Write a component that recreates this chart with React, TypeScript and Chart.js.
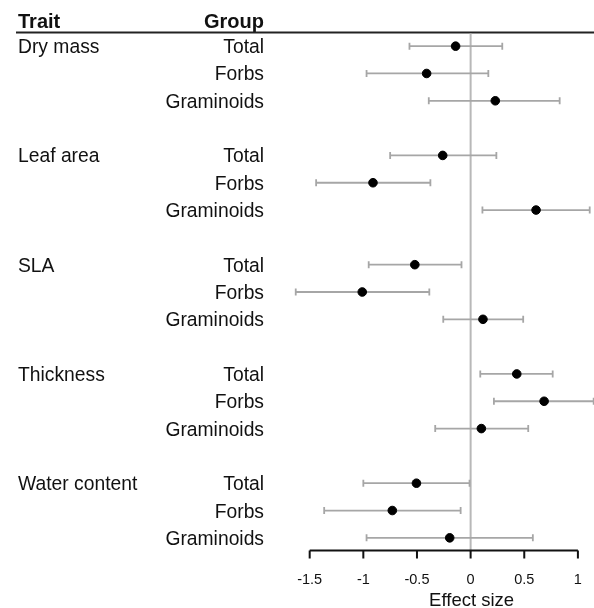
import React, { useEffect, useRef } from "react";
import { Chart, registerables } from "chart.js";

Chart.register(...registerables);

const traits = ["Dry mass", "Leaf area", "SLA", "Thickness", "Water content"];
const groups = ["Total", "Forbs", "Graminoids"];
// effect sizes, per trait x group (Total, Forbs, Graminoids)
const estimates = [
  -0.14, -0.41, 0.23,
  -0.26, -0.91, 0.61,
  -0.52, -1.01, 0.115,
  0.43, 0.685, 0.1,
  -0.505, -0.73, -0.195,
];
const lower = [
  -0.57, -0.97, -0.39,
  -0.75, -1.44, 0.11,
  -0.95, -1.63, -0.255,
  0.09, 0.217, -0.33,
  -1.0, -1.365, -0.97,
];
const upper = [
  0.295, 0.165, 0.83,
  0.24, -0.375, 1.11,
  -0.085, -0.385, 0.49,
  0.765, 1.147, 0.537,
  -0.01, -0.093, 0.58,
];
const xTicks = [-1.5, -1, -0.5, 0, 0.5, 1];
const xTickLabels = ["-1.5", "-1", "-0.5", "0", "0.5", "1"];
const xTitle = "Effect size";
const headerTrait = "Trait";
const headerGroup = "Group";

// row index per estimate: 3 rows per trait, 1 blank row between traits
const rowOf = (i: number) => Math.floor(i / 3) * 4 + (i % 3);

const FONT = "'Liberation Sans', Arial, Helvetica, sans-serif";

export default function App() {
  const ref = useRef<HTMLCanvasElement | null>(null);

  useEffect(() => {
    document.body.style.margin = "0";
    const canvas = ref.current;
    if (!canvas) return;

    const points = estimates.map((v, i) => ({ x: v, y: rowOf(i) }));

    const drawPlugin = {
      id: "forestDraw",
      beforeDatasetsDraw(chart: any) {
        const ctx = chart.ctx;
        const xs = chart.scales.x;
        const ys = chart.scales.y;
        const area = chart.chartArea;
        ctx.save();

        // header
        ctx.fillStyle = "#111";
        ctx.font = `bold 20px ${FONT}`;
        ctx.textBaseline = "alphabetic";
        ctx.textAlign = "left";
        ctx.fillText(headerTrait, 18, 27.5);
        ctx.textAlign = "right";
        ctx.fillText(headerGroup, 264, 27.5);

        // header rule
        ctx.strokeStyle = "#222";
        ctx.lineWidth = 2;
        ctx.beginPath();
        ctx.moveTo(16, 32.5);
        ctx.lineTo(chart.width, 32.5);
        ctx.stroke();

        // labels
        ctx.font = `19.3px ${FONT}`;
        ctx.fillStyle = "#111";
        traits.forEach((t, ti) => {
          const y = ys.getPixelForValue(ti * 4);
          ctx.textAlign = "left";
          ctx.fillText(t, 18, y + 7);
        });
        estimates.forEach((_, i) => {
          const y = ys.getPixelForValue(rowOf(i));
          ctx.textAlign = "right";
          ctx.fillText(groups[i % 3], 264, y + 7);
        });

        // zero line
        const x0 = xs.getPixelForValue(0);
        ctx.strokeStyle = "#b8b8b8";
        ctx.lineWidth = 2;
        ctx.beginPath();
        ctx.moveTo(x0, 33.5);
        ctx.lineTo(x0, area.bottom);
        ctx.stroke();

        // error bars
        ctx.strokeStyle = "#a6a6a6";
        ctx.lineWidth = 1.8;
        estimates.forEach((_, i) => {
          const y = ys.getPixelForValue(rowOf(i));
          const xl = xs.getPixelForValue(lower[i]);
          const xh = xs.getPixelForValue(upper[i]);
          ctx.beginPath();
          ctx.moveTo(xl, y);
          ctx.lineTo(xh, y);
          ctx.moveTo(xl, y - 3.5);
          ctx.lineTo(xl, y + 3.5);
          ctx.moveTo(xh, y - 3.5);
          ctx.lineTo(xh, y + 3.5);
          ctx.stroke();
        });

        // x axis
        const axisY = area.bottom - 1;
        const xa = xs.getPixelForValue(xTicks[0]);
        const xb = xs.getPixelForValue(xTicks[xTicks.length - 1]);
        ctx.strokeStyle = "#111";
        ctx.lineWidth = 2;
        ctx.beginPath();
        ctx.moveTo(xa, axisY);
        ctx.lineTo(xb, axisY);
        xTicks.forEach((t) => {
          const px = xs.getPixelForValue(t);
          ctx.moveTo(px, axisY);
          ctx.lineTo(px, axisY + 8);
        });
        ctx.stroke();

        ctx.fillStyle = "#111";
        ctx.font = `14.5px ${FONT}`;
        ctx.textAlign = "center";
        xTicks.forEach((t, i) => {
          ctx.fillText(xTickLabels[i], xs.getPixelForValue(t), axisY + 33);
        });
        ctx.font = `18.5px ${FONT}`;
        ctx.fillText(xTitle, x0 + 1, axisY + 55);

        ctx.restore();
      },
    };

    const chart = new Chart(canvas, {
      type: "scatter",
      data: {
        datasets: [
          {
            data: points,
            backgroundColor: "#000",
            borderColor: "#000",
            pointRadius: 4.3,
            pointHoverRadius: 4.3,
          },
        ],
      },
      options: {
        animation: false,
        responsive: false,
        maintainAspectRatio: false,
        layout: { autoPadding: false, padding: { left: 277.5, right: 0, top: 32.5, bottom: 56.5 } },
        plugins: {
          legend: { display: false },
          tooltip: { enabled: false },
        },
        scales: {
          x: { type: "linear", min: -1.8, max: 1.15, display: false },
          y: { type: "linear", min: -0.5, max: 18.5, reverse: true, display: false },
        },
      },
      plugins: [drawPlugin],
    });

    return () => chart.destroy();
  }, []);

  return (
    <div style={{ position: "absolute", left: 0, top: 0, width: 594, height: 608, background: "#fff" }}>
      <canvas ref={ref} width={594} height={608} style={{ display: "block", width: 594, height: 608 }} />
    </div>
  );
}
